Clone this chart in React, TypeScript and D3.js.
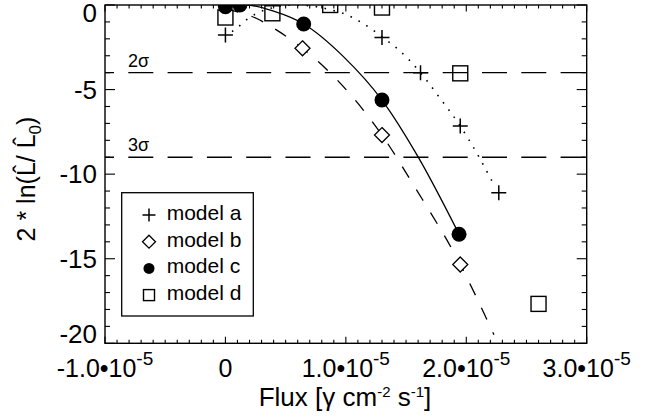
import * as d3 from "d3";

const W = 661;
const H = 419;
const margin = { top: 5, right: 74.3, bottom: 75.7, left: 105 };

// axis ticks
const xMajor = [-1e-5, 0, 1e-5, 2e-5, 3e-5];
const yMajor = [0, -5, -10, -15, -20];

// measured points
const aFlux = [0, 1.3e-5, 1.62e-5, 1.95e-5, 2.27e-5];
const aLike = [-1.78, -1.92, -4.0, -7.16, -11.1];
const bFlux = [0.64e-5, 1.3e-5, 1.95e-5];
const bLike = [-2.56, -7.69, -15.34];
const cFlux = [0, 0.12e-5, 0.65e-5, 1.3e-5, 1.94e-5];
const cLike = [-0.1, 0.0, -1.12, -5.62, -13.55];
const dFlux = [0, 0.39e-5, 0.87e-5, 1.3e-5, 1.95e-5, 2.6e-5];
const dLike = [-0.74, -0.49, 0.0, -0.15, -4.04, -17.67];

// fitted curves
const aCurveFlux = [0.055e-5, 0.125e-5, 0.19e-5, 0.26e-5, 0.4e-5, 0.55e-5, 0.7e-5, 0.855e-5, 1.01e-5, 1.14e-5, 1.3e-5, 1.44e-5, 1.62e-5, 1.76e-5, 1.95e-5, 2.12e-5, 2.22e-5];
const aCurveLike = [-1.58, -1.18, -0.79, -0.49, -0.15, 0.0, -0.05, -0.25, -0.59, -1.08, -1.88, -2.66, -4.0, -5.3, -7.16, -9.17, -10.5];
const bCurveFlux = [0, 0.26e-5, 0.43e-5, 0.64e-5, 1.04e-5, 1.3e-5, 1.56e-5, 1.95e-5, 2.23e-5];
const bCurveLike = [-0.25, -0.8, -1.5, -2.56, -5.31, -7.69, -10.62, -15.34, -19.5];
const cCurveFlux = [0, 0.17e-5, 0.4e-5, 0.65e-5, 0.98e-5, 1.3e-5, 1.6e-5, 1.94e-5];
const cCurveLike = [-0.04, 0.0, -0.36, -1.12, -3.05, -5.62, -8.98, -13.55];

const sigmaLevels = [-4, -9];
const sigmaLabels = ["2σ", "3σ"];

const legendLabels = ["model a", "model b", "model c", "model d"];

const FONT = "'Liberation Sans', Arial, Helvetica, sans-serif";

const zip = (xs: number[], ys: number[]) => xs.map((v, i) => [v, ys[i]] as [number, number]);

function Marker({ kind, cx, cy, s }: { kind: string; cx: number; cy: number; s: number }) {
  if (kind === "plus")
    return (
      <path d={`M${cx - s},${cy}H${cx + s}M${cx},${cy - s}V${cy + s}`} stroke="#000" strokeWidth={1.5} fill="none" />
    );
  if (kind === "diamond")
    return (
      <path d={`M${cx},${cy - s}L${cx + s},${cy}L${cx},${cy + s}L${cx - s},${cy}Z`} stroke="#000" strokeWidth={1.3} fill="#fff" />
    );
  if (kind === "circle") return <circle cx={cx} cy={cy} r={s} fill="#000" />;
  return <rect x={cx - s} y={cy - s} width={2 * s} height={2 * s} stroke="#000" strokeWidth={1.4} fill="none" />;
}

export default function App() {
  const x = d3.scaleLinear().domain([-1e-5, 3e-5]).range([margin.left, W - margin.right]);
  const y = d3.scaleLinear().domain([-20, 0]).range([H - margin.bottom, margin.top]);
  const [x0, x1] = x.range();
  const [y0, y1] = [y(0), y(-20)];

  const line = d3
    .line<[number, number]>()
    .x((d) => x(d[0]))
    .y((d) => y(d[1]))
    .curve(d3.curveMonotoneX);

  const xMinor = d3.range(-10, 31).map((i) => i * 1e-6);
  const yMinor = d3.range(-20, 1);

  const series = [
    { kind: "plus", xs: aFlux, ys: aLike },
    { kind: "diamond", xs: bFlux, ys: bLike },
    { kind: "circle", xs: cFlux, ys: cLike },
    { kind: "square", xs: dFlux, ys: dLike },
  ];
  const legendKinds = ["plus", "diamond", "circle", "square"];
  const legendSize = [6.5, 6.5, 5.5, 5.5];

  const xLabel = (v: number) => {
    if (v === 0) return <tspan>0</tspan>;
    return (
      <>
        <tspan>{`${(v / 1e-5).toFixed(1)}•10`}</tspan>
        <tspan dy={-12.5} fontSize={19}>-5</tspan>
      </>
    );
  };

  return (
    <svg width={W} height={H} style={{ position: "absolute", left: 0, top: 0, background: "#fff" }} fontFamily={FONT}>
      <defs>
        <clipPath id="plot">
          <rect x={x0} y={y0} width={x1 - x0} height={y1 - y0} />
        </clipPath>
      </defs>

      {/* sigma lines */}
      {sigmaLevels.map((s, i) => (
        <g key={s}>
          <line x1={x0} x2={x1} y1={y(s)} y2={y(s)} stroke="#000" strokeWidth={1.3} strokeDasharray="25 14.3" strokeDashoffset={16} />
          <text x={128} y={y(s) - 6} fontSize={18}>{sigmaLabels[i]}</text>
        </g>
      ))}

      <g clipPath="url(#plot)" fill="none" stroke="#000">
        <path d={line(zip(aCurveFlux, aCurveLike)) || ""} strokeWidth={1.6} strokeDasharray="1.6 7.5" />
        <path d={line(zip(bCurveFlux, bCurveLike)) || ""} strokeWidth={1.3} strokeDasharray="13 14" />
        <path d={line(zip(cCurveFlux, cCurveLike)) || ""} strokeWidth={1.3} />
      </g>

      <g clipPath="url(#plot)">
        {series.map((s) =>
          s.xs.map((v, i) => <Marker key={s.kind + i} kind={s.kind} cx={x(v)} cy={y(s.ys[i])} s={7.5} />)
        )}
      </g>

      {/* frame and ticks */}
      <rect x={x0} y={y0} width={x1 - x0} height={y1 - y0} fill="none" stroke="#000" strokeWidth={1.4} />
      <g stroke="#000" strokeWidth={1.1}>
        {xMinor.map((v, i) => {
          const len = i % 10 === 0 ? 6.5 : 3.5;
          return (
            <g key={i}>
              <line x1={x(v)} x2={x(v)} y1={y1} y2={y1 - len} />
              <line x1={x(v)} x2={x(v)} y1={y0} y2={y0 + len} />
            </g>
          );
        })}
        {yMinor.map((v) => {
          const len = v % 5 === 0 ? 10 : 5;
          return (
            <g key={v}>
              <line x1={x0} x2={x0 + len} y1={y(v)} y2={y(v)} />
              <line x1={x1} x2={x1 - len} y1={y(v)} y2={y(v)} />
            </g>
          );
        })}
      </g>

      {/* tick labels */}
      {yMajor.map((v) => (
        <text key={v} x={97} y={Math.min(Math.max(y(v), 13), 334) + 9} fontSize={26} textAnchor="end">
          {v}
        </text>
      ))}
      {xMajor.map((v) => (
        <text key={v} x={x(v)} y={377.3} fontSize={25} textAnchor="middle">
          {xLabel(v)}
        </text>
      ))}

      {/* axis titles */}
      <text x={345} y={405.5} fontSize={26} textAnchor="middle">
        <tspan>Flux [γ cm</tspan>
        <tspan dy={-9} fontSize={15}>-2</tspan>
        <tspan dy={9}> s</tspan>
        <tspan dy={-9} fontSize={15}>-1</tspan>
        <tspan dy={9}>]</tspan>
      </text>
      <text transform={`translate(35,179) rotate(-90)`} fontSize={25} textAnchor="middle">
        <tspan>2 * ln(L̂/ L̂</tspan>
        <tspan dy={6} fontSize={17}>0</tspan>
        <tspan dy={-6}>)</tspan>
      </text>

      {/* legend */}
      <rect x={121.7} y={192.7} width={131.6} height={123.3} fill="#fff" stroke="#000" strokeWidth={1.3} />
      {legendLabels.map((lab, i) => {
        const cy = 215 + i * 26.7;
        return (
          <g key={lab}>
            <Marker kind={legendKinds[i]} cx={149} cy={cy} s={legendSize[i]} />
            <text x={166.7} y={cy + 5} fontSize={21}>
              {lab}
            </text>
          </g>
        );
      })}
    </svg>
  );
}
